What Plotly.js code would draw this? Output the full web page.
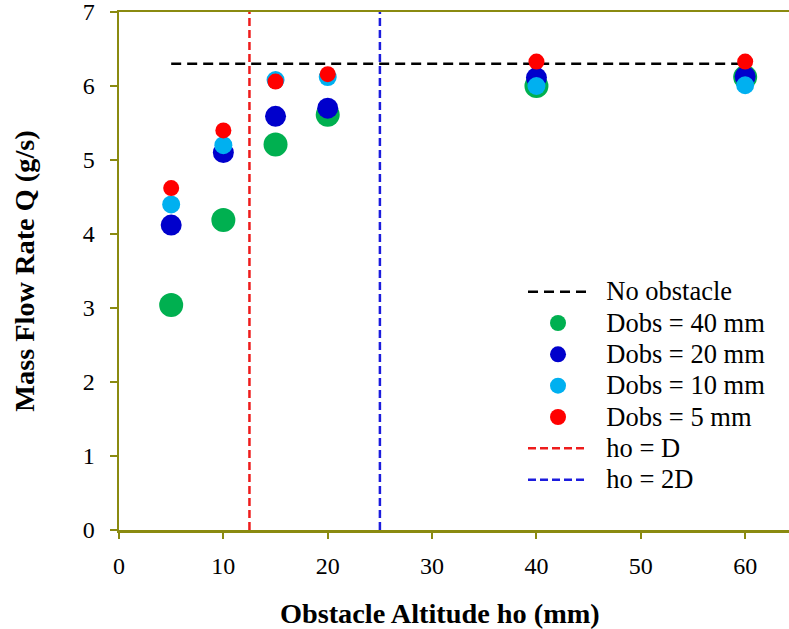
<!DOCTYPE html>
<html>
<head>
<meta charset="utf-8">
<script src="https://cdn.plot.ly/plotly-3.0.1.min.js"></script>
<style>html,body{margin:0;padding:0;background:#fff;}#chart{width:789px;height:629px;}</style>
</head>
<body>
<div id="chart"></div>
<script>
var altitude = [5, 10, 15, 20, 40, 60];
var dobs40 = [3.04, 4.19, 5.21, 5.61, 6.00, 6.12];
var dobs20 = [4.12, 5.10, 5.59, 5.70, 6.11, 6.13];
var dobs10 = [4.40, 5.20, 6.08, 6.12, 6.00, 6.01];
var dobs5  = [4.62, 5.40, 6.06, 6.16, 6.33, 6.33];
var noObstacleX = [5, 60];
var noObstacleY = [6.3, 6.3];
var hoD = 12.5;
var ho2D = 25;
var yRange = [0, 7];
var xTicks = [0, 10, 20, 30, 40, 50, 60];
var yTicks = [0, 1, 2, 3, 4, 5, 6, 7];
var seriesNames = ["No obstacle", "Dobs = 40 mm", "Dobs = 20 mm", "Dobs = 10 mm", "Dobs = 5 mm", "ho = D", "ho = 2D"];

var FONT = "'Liberation Serif', 'Times New Roman', 'DejaVu Serif', serif";
var OLIVE = "#8a8a10";
function lg(s) { return '<span style="font-size:26.5px">\u00a0\u00a0' + s + '</span>'; }

var traces = [
  {x: noObstacleX, y: noObstacleY, mode: "lines", name: lg(seriesNames[0]), legendrank: 1,
   line: {color: "#000000", width: 2.5, dash: "10px,6px"}},
  {x: [hoD, hoD], y: yRange, mode: "lines", name: lg(seriesNames[5]), legendrank: 6,
   line: {color: "#ee1c1c", width: 2.5, dash: "8px,4px"}},
  {x: [ho2D, ho2D], y: yRange, mode: "lines", name: lg(seriesNames[6]), legendrank: 7,
   line: {color: "#1c1cdd", width: 2.5, dash: "8px,4px"}},
  {x: altitude, y: dobs40, mode: "markers", name: lg(seriesNames[1]), legendrank: 2,
   marker: {color: "#00b050", size: 24}},
  {x: altitude, y: dobs20, mode: "markers", name: lg(seriesNames[2]), legendrank: 3,
   marker: {color: "#0000cc", size: 21}},
  {x: altitude, y: dobs10, mode: "markers", name: lg(seriesNames[3]), legendrank: 4,
   marker: {color: "#00b0f0", size: 18}},
  {x: altitude, y: dobs5, mode: "markers", name: lg(seriesNames[4]), legendrank: 5,
   marker: {color: "#ff0000", size: 16}}
];

var layout = {
  width: 789, height: 629,
  margin: {l: 119, r: 0, t: 12, b: 99},
  paper_bgcolor: "#ffffff", plot_bgcolor: "#ffffff",
  font: {family: FONT, color: "#000000", size: 24},
  showlegend: true,
  legend: {x: 0.603, y: 0.5, xanchor: "left", yanchor: "top",
    font: {family: FONT, size: 21.8, color: "#000"}, bgcolor: "rgba(0,0,0,0)",
    itemwidth: 60, tracegroupgap: 0},
  xaxis: {range: [0, 64.2], tickvals: xTicks, ticktext: xTicks.map(String),
    showgrid: false, zeroline: false, showline: true, linecolor: OLIVE, linewidth: 2.5,
    mirror: true, ticks: "outside", ticklen: 6, tickwidth: 2, tickcolor: OLIVE,
    tickfont: {family: FONT, size: 24}, ticklabelstandoff: 7, ticklabeloverflow: "allow",
    title: {text: "<b>Obstacle Altitude ho (mm)\u00a0\u00a0\u00a0\u00a0</b>", font: {family: FONT, size: 28.3}, standoff: 30}},
  yaxis: {range: yRange, tickvals: yTicks, ticktext: yTicks.map(String),
    showgrid: false, zeroline: false, showline: true, linecolor: OLIVE, linewidth: 2.5,
    ticks: "outside", ticklen: 7, tickwidth: 2, tickcolor: OLIVE,
    tickfont: {family: FONT, size: 24}, ticklabelstandoff: 10, ticklabeloverflow: "allow",
    title: {text: "<b>Mass Flow Rate Q (g/s)</b>", font: {family: FONT, size: 28.3}, standoff: 40}}
};

Plotly.newPlot("chart", traces, layout, {displayModeBar: false, staticPlot: true});
</script>
</body>
</html>
